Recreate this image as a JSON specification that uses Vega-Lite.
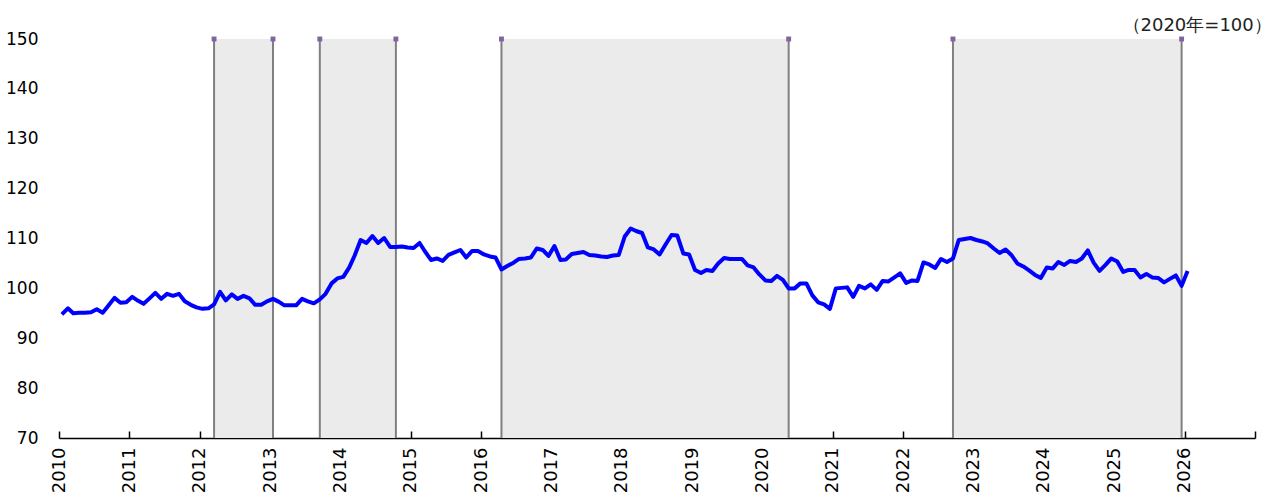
{
  "$schema": "https://vega.github.io/schema/vega-lite/v6.json",
  "width": 1196,
  "height": 399,
  "autosize": {"type": "none"},
  "padding": {"left": 59, "top": 39, "right": 18, "bottom": 62},
  "background": "white",
  "title": {"text": "（2020年=100）", "anchor": "end", "fontSize": 18, "fontWeight": "normal", "font": "DejaVu Sans", "color": "#222222", "offset": -5, "dx": 16},
  "datasets": {
    "periods": [
      {"start": "2012-03-16", "end": "2013-01-16"},
      {"start": "2013-09-16", "end": "2014-10-16"},
      {"start": "2016-04-16", "end": "2020-05-16"},
      {"start": "2022-09-16", "end": "2025-12-16"}
    ],
    "bounds": [
      {"date": "2012-03-16"}, {"date": "2013-01-16"},
      {"date": "2013-09-16"}, {"date": "2014-10-16"},
      {"date": "2016-04-16"}, {"date": "2020-05-16"},
      {"date": "2022-09-16"}, {"date": "2025-12-16"}
    ],
    "series": [
      {"date": "2010-01-16", "value": 94.8}, {"date": "2010-02-16", "value": 96.0}, {"date": "2010-03-16", "value": 95.0}, {"date": "2010-04-16", "value": 95.1}, {"date": "2010-05-16", "value": 95.1}, {"date": "2010-06-16", "value": 95.2}, {"date": "2010-07-16", "value": 95.8}, {"date": "2010-08-16", "value": 95.1}, {"date": "2010-09-16", "value": 96.6}, {"date": "2010-10-16", "value": 98.1}, {"date": "2010-11-16", "value": 97.1}, {"date": "2010-12-16", "value": 97.2},
      {"date": "2011-01-16", "value": 98.3}, {"date": "2011-02-16", "value": 97.5}, {"date": "2011-03-16", "value": 96.9}, {"date": "2011-04-16", "value": 98.0}, {"date": "2011-05-16", "value": 99.1}, {"date": "2011-06-16", "value": 97.9}, {"date": "2011-07-16", "value": 98.9}, {"date": "2011-08-16", "value": 98.5}, {"date": "2011-09-16", "value": 98.9}, {"date": "2011-10-16", "value": 97.4}, {"date": "2011-11-16", "value": 96.7}, {"date": "2011-12-16", "value": 96.2},
      {"date": "2012-01-16", "value": 95.9}, {"date": "2012-02-16", "value": 96.0}, {"date": "2012-03-16", "value": 96.8}, {"date": "2012-04-16", "value": 99.3}, {"date": "2012-05-16", "value": 97.6}, {"date": "2012-06-16", "value": 98.8}, {"date": "2012-07-16", "value": 97.9}, {"date": "2012-08-16", "value": 98.5}, {"date": "2012-09-16", "value": 98.0}, {"date": "2012-10-16", "value": 96.7}, {"date": "2012-11-16", "value": 96.7}, {"date": "2012-12-16", "value": 97.4},
      {"date": "2013-01-16", "value": 97.9}, {"date": "2013-02-16", "value": 97.3}, {"date": "2013-03-16", "value": 96.6}, {"date": "2013-04-16", "value": 96.6}, {"date": "2013-05-16", "value": 96.6}, {"date": "2013-06-16", "value": 97.9}, {"date": "2013-07-16", "value": 97.4}, {"date": "2013-08-16", "value": 97.0}, {"date": "2013-09-16", "value": 97.8}, {"date": "2013-10-16", "value": 98.9}, {"date": "2013-11-16", "value": 101.0}, {"date": "2013-12-16", "value": 102.0},
      {"date": "2014-01-16", "value": 102.3}, {"date": "2014-02-16", "value": 104.2}, {"date": "2014-03-16", "value": 106.6}, {"date": "2014-04-16", "value": 109.7}, {"date": "2014-05-16", "value": 109.1}, {"date": "2014-06-16", "value": 110.5}, {"date": "2014-07-16", "value": 109.1}, {"date": "2014-08-16", "value": 110.1}, {"date": "2014-09-16", "value": 108.3}, {"date": "2014-10-16", "value": 108.3}, {"date": "2014-11-16", "value": 108.4}, {"date": "2014-12-16", "value": 108.2},
      {"date": "2015-01-16", "value": 108.1}, {"date": "2015-02-16", "value": 109.1}, {"date": "2015-03-16", "value": 107.4}, {"date": "2015-04-16", "value": 105.7}, {"date": "2015-05-16", "value": 106.0}, {"date": "2015-06-16", "value": 105.5}, {"date": "2015-07-16", "value": 106.7}, {"date": "2015-08-16", "value": 107.2}, {"date": "2015-09-16", "value": 107.7}, {"date": "2015-10-16", "value": 106.2}, {"date": "2015-11-16", "value": 107.5}, {"date": "2015-12-16", "value": 107.5},
      {"date": "2016-01-16", "value": 106.8}, {"date": "2016-02-16", "value": 106.4}, {"date": "2016-03-16", "value": 106.2}, {"date": "2016-04-16", "value": 103.8}, {"date": "2016-05-16", "value": 104.5}, {"date": "2016-06-16", "value": 105.1}, {"date": "2016-07-16", "value": 105.9}, {"date": "2016-08-16", "value": 106.0}, {"date": "2016-09-16", "value": 106.2}, {"date": "2016-10-16", "value": 108.0}, {"date": "2016-11-16", "value": 107.7}, {"date": "2016-12-16", "value": 106.5},
      {"date": "2017-01-16", "value": 108.5}, {"date": "2017-02-16", "value": 105.7}, {"date": "2017-03-16", "value": 105.8}, {"date": "2017-04-16", "value": 106.9}, {"date": "2017-05-16", "value": 107.1}, {"date": "2017-06-16", "value": 107.3}, {"date": "2017-07-16", "value": 106.7}, {"date": "2017-08-16", "value": 106.6}, {"date": "2017-09-16", "value": 106.4}, {"date": "2017-10-16", "value": 106.3}, {"date": "2017-11-16", "value": 106.6}, {"date": "2017-12-16", "value": 106.7},
      {"date": "2018-01-16", "value": 110.4}, {"date": "2018-02-16", "value": 112.0}, {"date": "2018-03-16", "value": 111.5}, {"date": "2018-04-16", "value": 111.1}, {"date": "2018-05-16", "value": 108.2}, {"date": "2018-06-16", "value": 107.8}, {"date": "2018-07-16", "value": 106.8}, {"date": "2018-08-16", "value": 108.8}, {"date": "2018-09-16", "value": 110.7}, {"date": "2018-10-16", "value": 110.6}, {"date": "2018-11-16", "value": 107.0}, {"date": "2018-12-16", "value": 106.8},
      {"date": "2019-01-16", "value": 103.7}, {"date": "2019-02-16", "value": 103.1}, {"date": "2019-03-16", "value": 103.7}, {"date": "2019-04-16", "value": 103.5}, {"date": "2019-05-16", "value": 105.0}, {"date": "2019-06-16", "value": 106.1}, {"date": "2019-07-16", "value": 105.9}, {"date": "2019-08-16", "value": 105.9}, {"date": "2019-09-16", "value": 105.9}, {"date": "2019-10-16", "value": 104.6}, {"date": "2019-11-16", "value": 104.2}, {"date": "2019-12-16", "value": 102.8},
      {"date": "2020-01-16", "value": 101.6}, {"date": "2020-02-16", "value": 101.5}, {"date": "2020-03-16", "value": 102.5}, {"date": "2020-04-16", "value": 101.7}, {"date": "2020-05-16", "value": 100.0}, {"date": "2020-06-16", "value": 100.0}, {"date": "2020-07-16", "value": 101.0}, {"date": "2020-08-16", "value": 101.0}, {"date": "2020-09-16", "value": 98.6}, {"date": "2020-10-16", "value": 97.2}, {"date": "2020-11-16", "value": 96.8}, {"date": "2020-12-16", "value": 95.9},
      {"date": "2021-01-16", "value": 100.0}, {"date": "2021-02-16", "value": 100.1}, {"date": "2021-03-16", "value": 100.2}, {"date": "2021-04-16", "value": 98.3}, {"date": "2021-05-16", "value": 100.5}, {"date": "2021-06-16", "value": 100.0}, {"date": "2021-07-16", "value": 100.8}, {"date": "2021-08-16", "value": 99.7}, {"date": "2021-09-16", "value": 101.5}, {"date": "2021-10-16", "value": 101.4}, {"date": "2021-11-16", "value": 102.2}, {"date": "2021-12-16", "value": 103.0},
      {"date": "2022-01-16", "value": 101.1}, {"date": "2022-02-16", "value": 101.6}, {"date": "2022-03-16", "value": 101.5}, {"date": "2022-04-16", "value": 105.2}, {"date": "2022-05-16", "value": 104.8}, {"date": "2022-06-16", "value": 104.1}, {"date": "2022-07-16", "value": 105.9}, {"date": "2022-08-16", "value": 105.3}, {"date": "2022-09-16", "value": 106.0}, {"date": "2022-10-16", "value": 109.7}, {"date": "2022-11-16", "value": 109.9}, {"date": "2022-12-16", "value": 110.1},
      {"date": "2023-01-16", "value": 109.7}, {"date": "2023-02-16", "value": 109.4}, {"date": "2023-03-16", "value": 109.0}, {"date": "2023-04-16", "value": 108.0}, {"date": "2023-05-16", "value": 107.1}, {"date": "2023-06-16", "value": 107.8}, {"date": "2023-07-16", "value": 106.7}, {"date": "2023-08-16", "value": 105.0}, {"date": "2023-09-16", "value": 104.4}, {"date": "2023-10-16", "value": 103.6}, {"date": "2023-11-16", "value": 102.7}, {"date": "2023-12-16", "value": 102.1},
      {"date": "2024-01-16", "value": 104.2}, {"date": "2024-02-16", "value": 104.0}, {"date": "2024-03-16", "value": 105.3}, {"date": "2024-04-16", "value": 104.7}, {"date": "2024-05-16", "value": 105.5}, {"date": "2024-06-16", "value": 105.3}, {"date": "2024-07-16", "value": 106.0}, {"date": "2024-08-16", "value": 107.6}, {"date": "2024-09-16", "value": 105.1}, {"date": "2024-10-16", "value": 103.5}, {"date": "2024-11-16", "value": 104.7}, {"date": "2024-12-16", "value": 106.0},
      {"date": "2025-01-16", "value": 105.4}, {"date": "2025-02-16", "value": 103.3}, {"date": "2025-03-16", "value": 103.7}, {"date": "2025-04-16", "value": 103.7}, {"date": "2025-05-16", "value": 102.2}, {"date": "2025-06-16", "value": 102.9}, {"date": "2025-07-16", "value": 102.2}, {"date": "2025-08-16", "value": 102.1}, {"date": "2025-09-16", "value": 101.2}, {"date": "2025-10-16", "value": 101.9}, {"date": "2025-11-16", "value": 102.6}, {"date": "2025-12-16", "value": 100.5},
      {"date": "2026-01-16", "value": 103.5}
    ]
  },
  "layer": [
    {
      "data": {"name": "periods"},
      "mark": {"type": "rect", "color": "#EBEBEB"},
      "encoding": {
        "x": {"field": "start", "type": "temporal", "title": null,
          "scale": {"domain": ["2010-01-01", "2027-01-01"], "nice": false},
          "axis": {"format": "%Y", "tickCount": "year", "labelExpr": "datum.label == '2027' ? '' : datum.label"}},
        "x2": {"field": "end"}
      }
    },
    {
      "data": {"name": "bounds"},
      "mark": {"type": "rule", "color": "#808080", "strokeWidth": 2},
      "encoding": {
        "x": {"field": "date", "type": "temporal", "title": null}
      }
    },
    {
      "data": {"name": "bounds"},
      "mark": {"type": "point", "shape": "square", "filled": true, "color": "#8064A2", "size": 24, "opacity": 1},
      "encoding": {
        "x": {"field": "date", "type": "temporal", "title": null},
        "y": {"datum": 150, "type": "quantitative"}
      }
    },
    {
      "data": {"name": "series"},
      "mark": {"type": "line", "color": "#0000FF", "strokeWidth": 4, "strokeJoin": "round"},
      "encoding": {
        "x": {"field": "date", "type": "temporal", "title": null},
        "y": {
          "field": "value", "type": "quantitative", "title": null,
          "scale": {"domain": [70, 150], "nice": false, "zero": false},
          "axis": {"values": [70, 80, 90, 100, 110, 120, 130, 140, 150]}
        }
      }
    }
  ],
  "config": {
    "view": {"stroke": null},
    "axis": {"grid": false, "labelFont": "DejaVu Sans", "labelColor": "#000000"},
    "axisX": {"domainColor": "#000000", "domainWidth": 1.5, "tickColor": "#000000", "tickWidth": 1.5, "tickSize": -7, "labelAngle": -90, "labelFontSize": 18, "labelPadding": 16, "labelAlign": "right", "labelBaseline": "middle"},
    "axisY": {"domain": false, "ticks": false, "tickSize": 0, "labelFontSize": 17, "labelPadding": 21}
  }
}
